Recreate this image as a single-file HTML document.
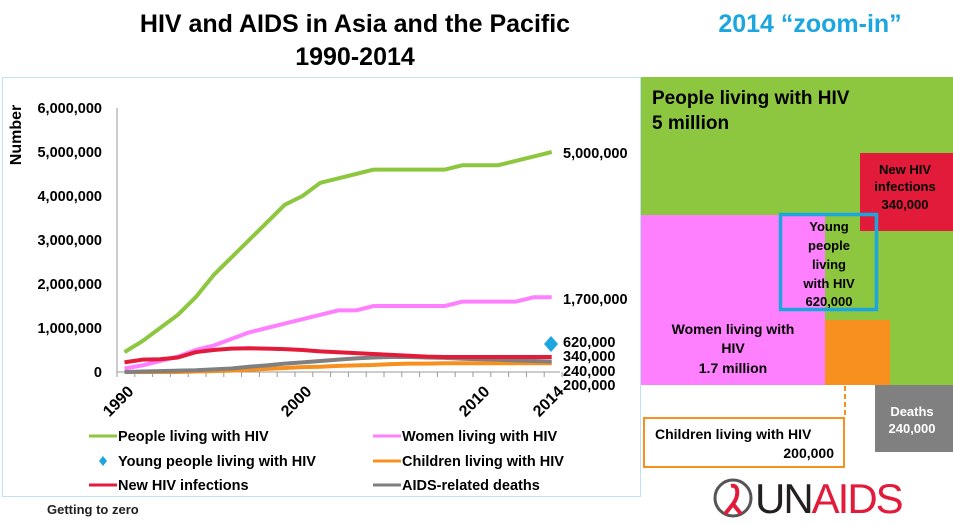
<!DOCTYPE html>
<html><head><meta charset="utf-8"><style>
body{margin:0;background:#fff;}
svg{display:block;font-family:"Liberation Sans",Arial,sans-serif;font-weight:bold;}
</style></head><body>
<svg id="s" width="953" height="525" viewBox="0 0 953 525" xmlns="http://www.w3.org/2000/svg">
<rect width="953" height="525" fill="#fff"/>
<text x="355" y="32" font-size="25" text-anchor="middle" fill="#000">HIV and AIDS in Asia and the Pacific</text>
<text x="355" y="65" font-size="25" text-anchor="middle" fill="#000">1990-2014</text>
<text x="810" y="32" font-size="25" text-anchor="middle" fill="#1ba6e0">2014 “zoom-in”</text>
<rect x="2.5" y="77.5" width="638" height="419" fill="none" stroke="#bfe3f2" stroke-width="1"/>
<text transform="translate(21,135) rotate(-90)" font-size="16" text-anchor="middle">Number</text>
<g font-size="14.5" text-anchor="end">
<text x="102" y="113">6,000,000</text><text x="102" y="157">5,000,000</text><text x="102" y="201">4,000,000</text>
<text x="102" y="245">3,000,000</text><text x="102" y="289">2,000,000</text><text x="102" y="333">1,000,000</text><text x="102" y="377">0</text>
</g>
<line x1="117" y1="108" x2="117" y2="372" stroke="#999"/>
<line x1="117" y1="372" x2="560" y2="372" stroke="#999"/>
<g id="ticks" stroke="#999"></g>
<g font-size="16">
<text transform="translate(126,384) rotate(-45)" text-anchor="end" dy="12">1990</text>
<text transform="translate(304,384) rotate(-45)" text-anchor="end" dy="12">2000</text>
<text transform="translate(482,384) rotate(-45)" text-anchor="end" dy="12">2010</text>
<text transform="translate(556,384) rotate(-45)" text-anchor="end" dy="12">2014</text>
</g>
<g id="lines" fill="none" stroke-width="4" stroke-linejoin="round"></g>
<polygon points="551,336 558,344 551,352 544,344" fill="#1ba6e0"/>
<g font-size="14.5">
<text x="563" y="158">5,000,000</text><text x="563" y="304">1,700,000</text>
<text x="563" y="347">620,000</text><text x="563" y="361">340,000</text><text x="563" y="376">240,000</text><text x="563" y="390">200,000</text>
</g>
<g font-size="14.5">
<line x1="89" y1="436" x2="117" y2="436" stroke="#8dc63f" stroke-width="3"/><text x="118" y="441">People living with HIV</text>
<polygon points="103,456 107,461 103,466 99,461" fill="#1ba6e0"/><text x="118" y="466">Young people living with HIV</text>
<line x1="89" y1="485" x2="117" y2="485" stroke="#e31b3b" stroke-width="3"/><text x="118" y="490">New HIV infections</text>
<line x1="373" y1="436" x2="401" y2="436" stroke="#ff80ff" stroke-width="3"/><text x="402" y="441">Women living with HIV</text>
<line x1="373" y1="461" x2="401" y2="461" stroke="#f7901e" stroke-width="3"/><text x="402" y="466">Children living with HIV</text>
<line x1="373" y1="485" x2="401" y2="485" stroke="#808080" stroke-width="3"/><text x="402" y="490">AIDS-related deaths</text>
</g>
<text x="47" y="514" font-size="13" fill="#222">Getting to zero</text>
<!-- right panel -->
<rect x="641" y="77" width="312" height="308" fill="#8dc63f"/>
<rect x="641" y="215" width="184" height="170" fill="#ff80ff"/>
<rect x="860" y="153" width="93" height="78" fill="#e31b3b"/>
<rect x="825" y="320" width="65" height="65" fill="#f7901e"/>
<rect x="780.5" y="214.5" width="96" height="95" fill="none" stroke="#1ba6e0" stroke-width="3.5"/>
<rect x="875" y="385" width="78" height="67" fill="#808080"/>
<rect x="644" y="418" width="200" height="49" fill="#fff" stroke="#f7901e" stroke-width="2"/>
<line x1="845" y1="386" x2="845" y2="418" stroke="#f7901e" stroke-width="2" stroke-dasharray="5,3"/>
<text x="652" y="104" font-size="19">People living with HIV</text>
<text x="652" y="129" font-size="19">5 million</text>
<g font-size="13" text-anchor="middle">
<text x="905" y="174">New HIV</text><text x="905" y="191">infections</text><text x="905" y="209">340,000</text>
<text x="829" y="231">Young</text><text x="829" y="250">people</text><text x="829" y="269">living</text><text x="829" y="288">with HIV</text><text x="829" y="306">620,000</text>
<text x="733" y="334" font-size="14">Women living with</text><text x="733" y="353" font-size="14">HIV</text><text x="733" y="373" font-size="14">1.7 million</text>
<text x="912" y="416" fill="#fff">Deaths</text><text x="912" y="433" fill="#fff">240,000</text>
</g>
<text x="655" y="439" font-size="14">Children living with HIV</text>
<text x="834" y="458" font-size="14" text-anchor="end">200,000</text>
<g transform="translate(733,498)">
<circle cx="0" cy="0" r="18" fill="none" stroke="#555" stroke-width="3"/>
<path d="M-2,-12 C6,-14 6,-2 0,6 L-8,16 M0,6 L8,16" stroke="#e31b3b" stroke-width="4" fill="none"/>
</g>
<text x="755" y="513" font-size="42" font-weight="normal" fill="#231f20" letter-spacing="-2">UN<tspan fill="#e31b3b">AIDS</tspan></text>
</svg>
<script>
var X=function(i){return 124.5+i*17.8},Y=function(v){return 372-v*44};
var d={"#8dc63f":[.45,.7,1,1.3,1.7,2.2,2.6,3,3.4,3.8,4,4.3,4.4,4.5,4.6,4.6,4.6,4.6,4.6,4.7,4.7,4.7,4.8,4.9,5],
"#ff80ff":[.08,.15,.25,.35,.5,.6,.75,.9,1,1.1,1.2,1.3,1.4,1.4,1.5,1.5,1.5,1.5,1.5,1.6,1.6,1.6,1.6,1.7,1.7],
"#f7901e":[0,0,0,0,.01,.02,.03,.05,.07,.09,.11,.12,.14,.15,.16,.18,.19,.19,.2,.2,.2,.2,.2,.2,.2],
"#808080":[0,.01,.02,.03,.04,.06,.08,.12,.15,.19,.22,.25,.28,.31,.33,.34,.34,.33,.32,.3,.29,.28,.26,.25,.24],
"#e31b3b":[.22,.28,.29,.33,.45,.5,.53,.54,.53,.52,.5,.47,.45,.43,.41,.39,.37,.35,.34,.34,.34,.34,.34,.34,.34]};
var g=document.getElementById('lines'),h='';
for(var c in d){h+='<polyline stroke="'+c+'" points="'+d[c].map(function(v,i){return X(i)+','+Y(v)}).join(' ')+'"/>';}
g.innerHTML=h;
var t='';for(var i=0;i<=25;i++){var x=117+i*17.8;t+='<line x1="'+x+'" y1="372" x2="'+x+'" y2="377"/>';}
document.getElementById('ticks').innerHTML=t;
</script>
</body></html>
